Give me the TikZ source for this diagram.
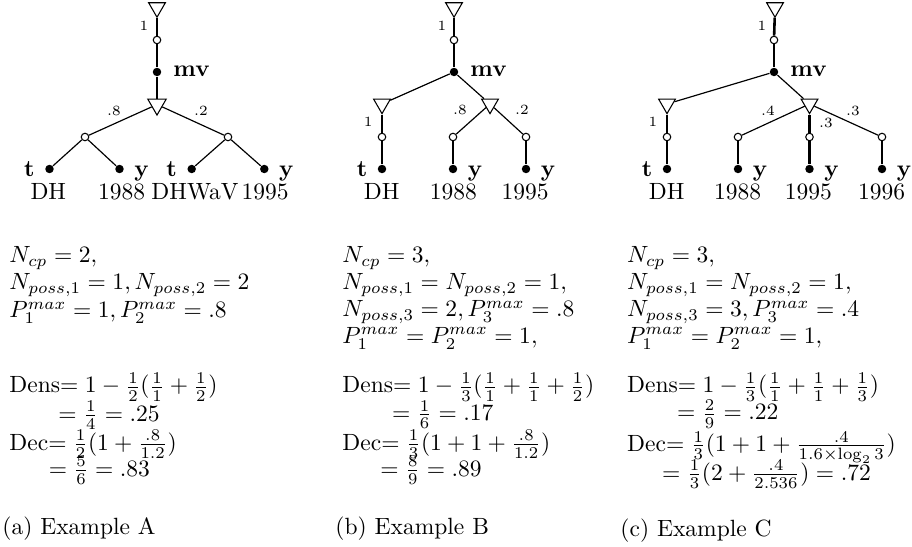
\documentclass[tikz,border=0pt]{standalone}
\usetikzlibrary{shapes.geometric}
\tikzset{
 tri/.style={draw, regular polygon, regular polygon sides=3, shape border rotate=180, minimum size=8.2pt, inner sep=0pt, line width=0.45pt},
 odot/.style={draw, circle, fill=white, minimum size=3.2pt, inner sep=0pt, line width=0.45pt},
 fdot/.style={circle, fill=black, minimum size=3.6pt, inner sep=0pt},
 thk/.style={line width=1.1pt},
 thn/.style={line width=0.5pt},
 prob/.style={font=\fontsize{6}{7}\selectfont, inner sep=0pt},
 feat/.style={font=\bfseries, anchor=base, inner sep=0pt},
 val/.style={anchor=base, inner sep=0pt},
 txt/.style={anchor=base west, inner sep=0pt},
}
\begin{document}
\begin{tikzpicture}[x=0.4255pt, y=-0.4255pt]
\useasboundingbox (0,0) rectangle (912,547);

% ---------- Tree A ----------
\node[tri]  (tA0) at (157,7.6) {};
\node[odot] (cA0) at (157,40) {};
\node[fdot] (mA)  at (157,72) {};
\node[tri, minimum size=9pt]  (tA1) at (157,104.5) {};
\node[odot] (cA1) at (85,137) {};
\node[odot] (cA2) at (228,137) {};
\node[fdot] (lA1) at (49.5,169) {};
\node[fdot] (lA2) at (119.5,169) {};
\node[fdot] (lA3) at (191.7,169) {};
\node[fdot] (lA4) at (264.3,169) {};
\draw[thk] (tA0) -- (cA0);
\draw[thk] (cA0) -- (mA);
\draw[thk] (mA) -- (tA1);
\draw[thn] (tA1) -- (cA1);
\draw[thn] (tA1) -- (cA2);
\draw[thn] (cA1) -- (lA1);
\draw[thn] (cA1) -- (lA2);
\draw[thn] (cA2) -- (lA3);
\draw[thn] (cA2) -- (lA4);
\node[prob] (pA0) at (144,26) {1};
\node[prob] (pA1) at (114,111) {.8};
\node[prob] (pA2) at (201,111) {.2};
\node[txt,font=\bfseries] (mvA) at (173,77) {mv};
\node[feat] (fA1) at (29.5,176.5) {t};
\node[feat] (fA2) at (141.5,176.5) {y};
\node[feat] (fA3) at (171.7,176.5) {t};
\node[feat] (fA4) at (286.3,176.5) {y};
\node[val] (vA1) at (48.3,200) {DH};
\node[val] (vA2) at (121.7,200) {1988};
\node[val] (vA3) at (195,200) {DHWaV};
\node[val] (vA4) at (265,200) {1995};

% ---------- Tree B ----------
\node[tri]  (tB0) at (454,7.6) {};
\node[odot] (cB0) at (454,40) {};
\node[fdot] (mB)  at (454,72) {};
\node[tri]  (tB1) at (382,104) {};
\node[tri]  (tB2) at (490,104) {};
\node[odot] (cB1) at (382,137) {};
\node[odot] (cB2) at (453,137) {};
\node[odot] (cB3) at (526,137) {};
\node[fdot] (lB1) at (382,169) {};
\node[fdot] (lB2) at (453,169) {};
\node[fdot] (lB3) at (526,169) {};
\draw[thk] (tB0) -- (cB0);
\draw[thk] (cB0) -- (mB);
\draw[thn] (mB) -- (tB1);
\draw[thn] (mB) -- (tB2);
\draw[thk] (tB1) -- (cB1);
\draw[thk] (cB1) -- (lB1);
\draw[thn] (tB2) -- (cB2);
\draw[thn] (tB2) -- (cB3);
\draw[thk] (cB2) -- (lB2);
\draw[thk] (cB3) -- (lB3);
\node[prob] (pB0) at (442,26) {1};
\node[prob] (pB1) at (368.3,122) {1};
\node[prob] (pB2) at (460,110) {.8};
\node[prob] (pB3) at (522,110) {.2};
\node[txt,font=\bfseries] (mvB) at (470,77) {mv};
\node[feat] (fB1) at (362,176.5) {t};
\node[feat] (fB2) at (475,176.5) {y};
\node[feat] (fB3) at (548,176.5) {y};
\node[val] (vB1) at (381.7,200) {DH};
\node[val] (vB2) at (453.3,200) {1988};
\node[val] (vB3) at (525,200) {1995};

% ---------- Tree C ----------
\node[tri]  (tC0) at (775,7.6) {};
\node[odot] (cC0) at (774,40) {};
\node[fdot] (mC)  at (774,72) {};
\node[tri]  (tC1) at (667,104) {};
\node[tri]  (tC2) at (809.5,104) {};
\node[odot] (cC1) at (667,137) {};
\node[odot] (cC2) at (738,137) {};
\node[odot] (cC3) at (809.5,137) {};
\node[odot] (cC4) at (882,137) {};
\node[fdot] (lC1) at (667,169) {};
\node[fdot] (lC2) at (738,169) {};
\node[fdot] (lC3) at (809.5,169) {};
\node[fdot] (lC4) at (882,169) {};
\draw[thk] (tC0) -- (cC0);
\draw[thk] (cC0) -- (mC);
\draw[thn] (mC) -- (tC1);
\draw[thn] (mC) -- (tC2);
\draw[thk] (tC1) -- (cC1);
\draw[thk] (cC1) -- (lC1);
\draw[thn] (tC2) -- (cC2);
\draw[thk] (tC2) -- (cC3);
\draw[thn] (tC2) -- (cC4);
\draw[thk] (cC2) -- (lC2);
\draw[thk] (cC3) -- (lC3);
\draw[thk] (cC4) -- (lC4);
\node[prob] (pC0) at (762,26) {1};
\node[prob] (pC1) at (653,122) {1};
\node[prob] (pC2) at (768,111) {.4};
\node[prob] (pC3) at (826,122.5) {.3};
\node[prob] (pC4) at (853,110.5) {.3};
\node[txt,font=\bfseries] (mvC) at (790,77) {mv};
\node[feat] (fC1) at (647,176.5) {t};
\node[feat] (fC2) at (760,176.5) {y};
\node[feat] (fC3) at (831.5,176.5) {y};
\node[feat] (fC4) at (904,176.5) {y};
\node[val] (vC1) at (666.7,200) {DH};
\node[val] (vC2) at (737.5,200) {1988};
\node[val] (vC3) at (808.3,200) {1995};
\node[val] (vC4) at (881.7,200) {1996};

% ---------- Text A ----------
\node[txt] (a1) at (9,263) {$N_{cp}=2,$};
\node[txt] (a2) at (9,290) {$N_{poss,1}=1, N_{poss,2}=2$};
\node[txt] (a3) at (9,318) {$P_1^{max}=1, P_2^{max}=.8$};
\node[txt] (a4) at (9,393) {Dens$= 1-\frac{1}{2}(\frac{1}{1}+\frac{1}{2})$};
\node[txt] (a5) at (58,421) {$=\frac{1}{4}=.25$};
\node[txt] (a6) at (9,450) {Dec$= \frac{1}{2}(1+\frac{.8}{1.2})$};
\node[txt] (a7) at (48.3,476) {$=\frac{5}{6}=.83$};
\node[txt] (a8) at (2,534) {(a) Example A};

% ---------- Text B ----------
\node[txt] (b1) at (342,263) {$N_{cp}=3,$};
\node[txt] (b2) at (342,290) {$N_{poss,1}=N_{poss,2}=1,$};
\node[txt] (b3) at (342,317) {$N_{poss,3}=2, P_3^{max}=.8$};
\node[txt] (b4) at (342,343.5) {$P_1^{max}=P_2^{max}=1,$};
\node[txt] (b5) at (342,393) {Dens$= 1-\frac{1}{3}(\frac{1}{1}+\frac{1}{1}+\frac{1}{2})$};
\node[txt] (b6) at (391.7,420.5) {$=\frac{1}{6}=.17$};
\node[txt] (b7) at (342,450) {Dec$= \frac{1}{3}(1+1+\frac{.8}{1.2})$};
\node[txt] (b8) at (380,476) {$=\frac{8}{9}=.89$};
\node[txt] (b9) at (335,534) {(b) Example B};

% ---------- Text C ----------
\node[txt] (c1) at (626.7,263) {$N_{cp}=3,$};
\node[txt] (c2) at (626.7,290) {$N_{poss,1}=N_{poss,2}=1,$};
\node[txt] (c3) at (626.7,317) {$N_{poss,3}=3, P_3^{max}=.4$};
\node[txt] (c4) at (626.7,343.5) {$P_1^{max}=P_2^{max}=1,$};
\node[txt] (c5) at (626.7,393) {Dens$= 1-\frac{1}{3}(\frac{1}{1}+\frac{1}{1}+\frac{1}{3})$};
\node[txt] (c6) at (676.7,420) {$=\frac{2}{9}=.22$};
\node[txt] (c7) at (626.7,451.5) {Dec$= \frac{1}{3}(1+1+\frac{.4}{1.6\times\log_2 3})$};
\node[txt] (c8) at (661.7,480) {$=\frac{1}{3}(2+\frac{.4}{2.536})=.72$};
\node[txt] (c9) at (620,536.5) {(c) Example C};
\end{tikzpicture}
\end{document}
